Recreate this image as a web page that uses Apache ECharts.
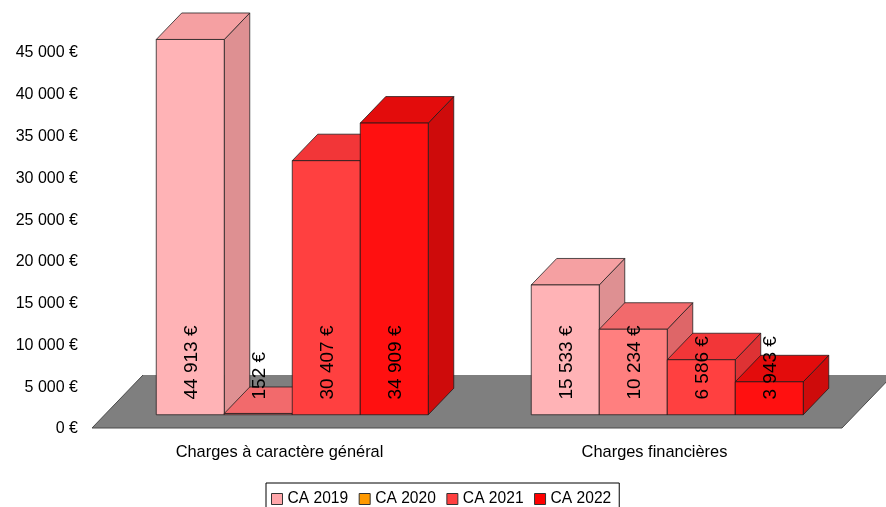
<!DOCTYPE html>
<html>
<head>
<meta charset="utf-8">
<script src="https://cdn.jsdelivr.net/npm/echarts@6/dist/echarts.min.js"></script>
<style>
html, body { margin: 0; padding: 0; background: #fff; overflow: hidden; }
#chart { width: 886px; height: 507px; }
</style>
</head>
<body>
<div id="chart"></div>
<script>
const categories = ['Charges à caractère général', 'Charges financières'];
const seriesNames = ['CA 2019', 'CA 2020', 'CA 2021', 'CA 2022'];
const ca2019 = [44913, 15533];
const ca2020 = [152, 10234];
const ca2021 = [30407, 6586];
const ca2022 = [34909, 3943];
const yTickLabels = ['0 €', '5 000 €', '10 000 €', '15 000 €', '20 000 €', '25 000 €', '30 000 €', '35 000 €', '40 000 €', '45 000 €'];

const seriesValues = [ca2019, ca2020, ca2021, ca2022];
const legendColors = ['#ffa6aa', '#ff9900', '#ff3f3f', '#ff0000'];
const frontColors = ['#ffb3b6', '#ff7f7f', '#ff4040', '#ff1010'];
const topColors = ['#f5a0a2', '#f26a6c', '#f23638', '#e30c0c'];
const sideColors = ['#de9092', '#de6668', '#de3234', '#ce0b0b'];

// profondeur du plancher "3D", les barres sont entre 1/4 et 3/4
const depthX = 51;
const depthY = -53;
const barShare = 68 / 375;
const edge = 'rgba(25,25,25,.75)';

function fmt(n) {
    return String(n).replace(/\B(?=(\d{3})+$)/g, ' ') + ' €';
}

function face(points, fill) {
    return {
        type: 'polygon',
        shape: { points: points },
        style: { fill: fill, stroke: edge, lineWidth: 1 }
    };
}

function renderBar(idx, params, api) {
    const base = api.coord([api.value(0), 0]);
    const head = api.coord([api.value(0), api.value(1)]);
    const band = api.size([1, 0])[0];
    const w = band * barShare;
    const x0 = base[0] - 2 * w + idx * w + depthX / 4;
    const x1 = x0 + w;
    const yb = base[1] + depthY / 4;
    const yt = head[1] + depthY / 4;
    const dx = depthX / 2;
    const dy = depthY / 2;
    return {
        type: 'group',
        children: [
            face([[x1, yb], [x1 + dx, yb + dy], [x1 + dx, yt + dy], [x1, yt]], sideColors[idx]),
            face([[x0, yt], [x1, yt], [x1 + dx, yt + dy], [x0 + dx, yt + dy]], topColors[idx]),
            face([[x0, yb], [x1, yb], [x1, yt], [x0, yt]], frontColors[idx]),
            {
                type: 'text',
                z2: 100,
                x: x0 + w / 2 + 1.5,
                y: 399.5,
                rotation: Math.PI / 2,
                style: {
                    text: fmt(api.value(1)),
                    fill: '#000',
                    font: '19px "Liberation Sans"',
                    align: 'left',
                    verticalAlign: 'middle'
                }
            }
        ]
    };
}

function renderFloor(params, api) {
    const c0 = api.coord([0, 0]);
    const c1 = api.coord([1, 0]);
    const band = api.size([1, 0])[0];
    const l = c0[0] - band / 2;
    const r = c1[0] + band / 2;
    const y = c0[1];
    return {
        type: 'group',
        children: [
            {
                type: 'polygon',
                shape: { points: [[l, y], [r, y], [r + depthX, y + depthY], [l + depthX, y + depthY]] },
                style: { fill: '#7f7f7f', stroke: null }
            },
            {
                type: 'polyline',
                shape: { points: [[l + depthX, y + depthY], [l, y], [r, y], [r + depthX, y + depthY]] },
                style: { fill: null, stroke: '#4a4a4a', lineWidth: 1 }
            }
        ]
    };
}

const barSeries = seriesNames.map(function (name, idx) {
    return {
        name: name,
        type: 'custom',
        itemStyle: { color: legendColors[idx] },
        encode: { x: 0, y: 1 },
        data: categories.map(function (c, i) { return [i, seriesValues[idx][i]]; }),
        renderItem: function (params, api) { return renderBar(idx, params, api); }
    };
});

const chart = echarts.init(document.getElementById('chart'));
chart.setOption({
    animation: false,
    backgroundColor: '#fff',
    grid: { left: 92, top: 52, width: 750, height: 376 },
    xAxis: {
        type: 'category',
        data: categories,
        axisLine: { show: false },
        axisTick: { show: false },
        axisLabel: { margin: 16, color: '#000', fontFamily: 'Liberation Sans', fontSize: 16.4 }
    },
    yAxis: {
        type: 'value',
        min: 0,
        max: 45000,
        interval: 5000,
        splitLine: { show: false },
        axisLine: { show: false },
        axisTick: { show: false },
        axisLabel: {
            margin: 14,
            color: '#000',
            fontFamily: 'Liberation Sans',
            fontSize: 16,
            verticalAlign: 'top',
            lineHeight: 2,
            formatter: function (v) { return yTickLabels[v / 5000]; }
        }
    },
    legend: {
        left: 266,
        top: 483,
        padding: [8, 8, 8, 5],
        itemGap: 10.5,
        itemWidth: 11,
        itemHeight: 11,
        icon: 'rect',
        borderColor: '#000',
        borderWidth: 1,
        textStyle: { color: '#000', fontFamily: 'Liberation Sans', fontSize: 15.6 },
        data: seriesNames.map(function (name, idx) {
            return { name: name, itemStyle: { color: legendColors[idx], borderColor: '#333', borderWidth: 1 } };
        })
    },
    series: [{
        type: 'custom',
        silent: true,
        encode: { x: 0, y: 1 },
        data: [[0, 0]],
        renderItem: renderFloor
    }].concat(barSeries)
});
</script>
</body>
</html>
